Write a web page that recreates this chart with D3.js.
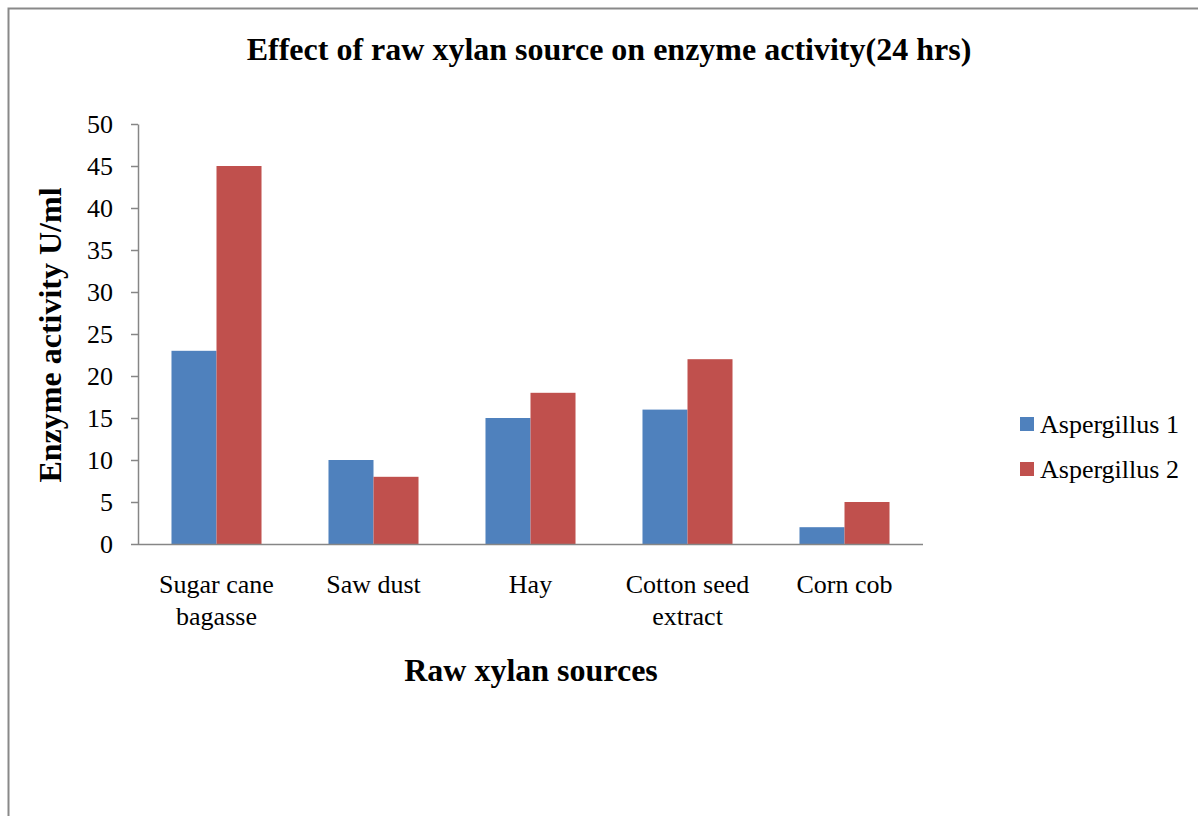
<!DOCTYPE html>
<html><head><meta charset="utf-8">
<script src="https://cdn.jsdelivr.net/npm/d3@7/dist/d3.min.js"></script>
<style>body{margin:0;background:#fff}svg{display:block}</style>
</head><body>
<svg id="c" width="1198" height="816"></svg>
<script>
const categories = [["Sugar cane","bagasse"],["Saw dust"],["Hay"],["Cotton seed","extract"],["Corn cob"]];
const seriesNames = ["Aspergillus 1","Aspergillus 2"];
const aspergillus1 = [23,10,15,16,2];
const aspergillus2 = [45,8,18,22,5];
const yTicks = [0,5,10,15,20,25,30,35,40,45,50];
const colors = ["#4F81BD","#C0504D"];
const font = "'Liberation Serif','Times New Roman',serif";

(function(){
const svg = d3.select("#c");
svg.append("rect").attr("x",8.5).attr("y",8.5).attr("width",1198).attr("height",816).attr("fill","none").attr("stroke","#898989").attr("stroke-width",2);

const pLeft=138,pRight=923,pTop=124,pBottom=544;
const keys = categories.map(c=>c.join(" "));
const x0 = d3.scaleBand().domain(keys).range([pLeft,pRight]).padding(0);
const x1 = d3.scaleBand().domain(seriesNames).range([0,x0.bandwidth()]).paddingInner(0).paddingOuter(0.744);
const y = d3.scaleLinear().domain([0,50]).range([pBottom,pTop]);

const data = keys.map((k,i)=>({k, v:[aspergillus1[i],aspergillus2[i]]}));
const g = svg.append("g");
data.forEach(d=>{
  d.v.forEach((v,j)=>{
    g.append("rect").attr("x",x0(d.k)+x1(seriesNames[j])).attr("y",y(v))
     .attr("width",x1.bandwidth()).attr("height",y(0)-y(v)).attr("fill",colors[j]);
  });
});

const yAxis = svg.append("g").attr("transform",`translate(${pLeft},0)`)
  .call(d3.axisLeft(y).tickValues(yTicks).tickSize(7).tickPadding(18).tickSizeOuter(0));
yAxis.select(".domain").attr("stroke","#868686").attr("stroke-width",1.5);
yAxis.selectAll(".tick line").attr("stroke","#868686").attr("stroke-width",1.5);
yAxis.selectAll("text").attr("font-family",font).attr("font-size",26).attr("fill","#000").attr("dy","0.34em");

const xAxis = svg.append("g").attr("transform",`translate(0,${pBottom})`)
  .call(d3.axisBottom(x0).tickSize(0).tickSizeOuter(0).tickFormat(()=>""));
xAxis.select(".domain").attr("stroke","#868686").attr("stroke-width",1.5).attr("d",`M${pLeft},0.5H${pRight}`);

categories.forEach((c,i)=>{
  const cx = x0(keys[i])+x0.bandwidth()/2;
  const t = svg.append("text").attr("x",cx).attr("y",593)
    .attr("text-anchor","middle").attr("font-family",font).attr("font-size",26).attr("fill","#000");
  c.forEach((line,li)=>t.append("tspan").attr("x",cx).attr("dy",li?32:0).text(line));
});

svg.append("text").attr("x",609).attr("y",60).attr("text-anchor","middle")
  .attr("font-family",font).attr("font-size",32).attr("font-weight","bold").text("Effect of raw xylan source on enzyme activity(24 hrs)");
svg.append("text").attr("x",531).attr("y",681).attr("text-anchor","middle")
  .attr("font-family",font).attr("font-size",32).attr("font-weight","bold").text("Raw xylan sources");
svg.append("text").attr("transform","translate(61,335) rotate(-90)").attr("text-anchor","middle")
  .attr("font-family",font).attr("font-size",32).attr("font-weight","bold").text("Enzyme activity U/ml");

seriesNames.forEach((s,i)=>{
  const ly = 417+i*45;
  svg.append("rect").attr("x",1020).attr("y",ly).attr("width",14).attr("height",14).attr("fill",colors[i]);
  svg.append("text").attr("x",1040).attr("y",ly+16).attr("font-family",font).attr("font-size",26).attr("fill","#000").text(s);
});
})();
</script>
</body></html>
